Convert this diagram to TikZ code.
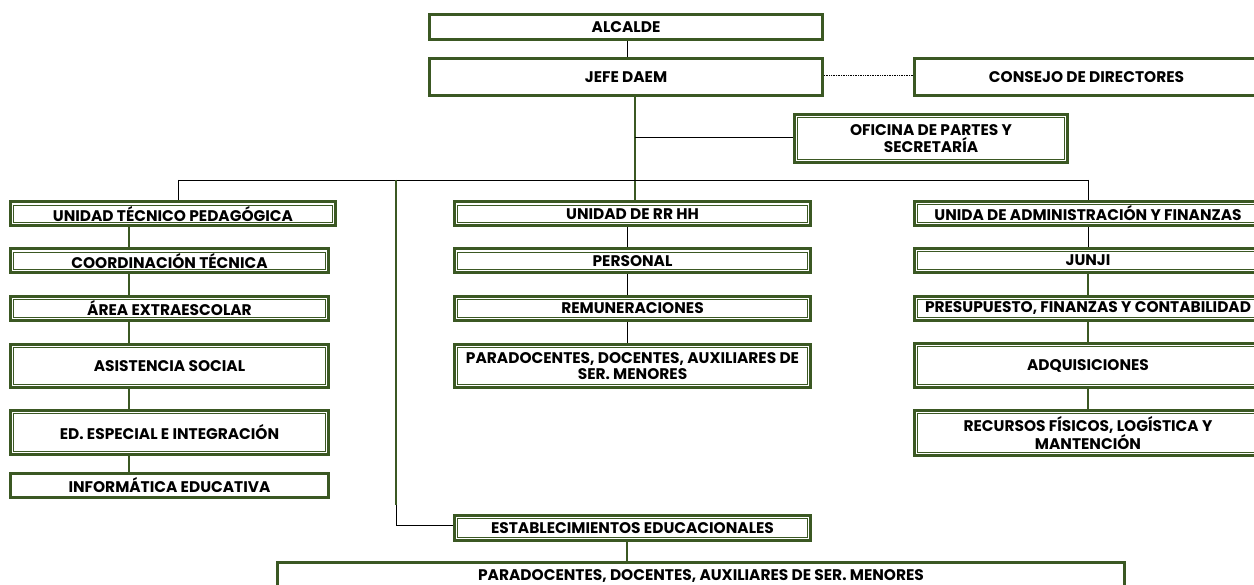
\documentclass[tikz,border=0pt]{standalone}
\usepackage{fontspec}
\setmainfont{Poppins}
\definecolor{dg}{RGB}{59,88,35}
\tikzset{
  bx/.style={draw=dg, line width=3pt, fill=white, inner sep=0pt, align=center,
    font=\bfseries\fontsize{15.4}{16.5}\selectfont, text=black},
  dbx/.style={bx, path picture={
      \draw[dg, line width=0.8pt] ([shift={(3.3pt,3.3pt)}]path picture bounding box.south west)
      rectangle ([shift={(-3.3pt,-3.3pt)}]path picture bounding box.north east);}},
  thin/.style={draw=black, line width=0.9pt},
  gl/.style={draw=dg, line width=2.2pt},
}
\begin{document}
\begin{tikzpicture}[x=1pt,y=-1pt]
\useasboundingbox (0,0) rectangle (1254,585);
\clip (0,0) rectangle (1254,585);
% top
\node[bx, minimum width=393pt, minimum height=25pt] (alc) at (626,27) {ALCALDE};
\node[bx, minimum width=393pt, minimum height=37pt] (jefe) at (626,77) {JEFE DAEM};
\node[bx, minimum width=344pt, minimum height=37pt] (cons) at (1086.5,77) {CONSEJO DE DIRECTORES};
\node[dbx, minimum width=273pt, minimum height=48pt] (ofi) at (931,138.5) {OFICINA DE PARTES Y\\SECRETARÍA};
% left column
\node[dbx, minimum width=325pt, minimum height=24pt] (utp) at (173,214) {UNIDAD TÉCNICO PEDAGÓGICA};
\node[dbx, minimum width=318pt, minimum height=24pt] (coord) at (169.5,261) {COORDINACIÓN TÉCNICA};
\node[dbx, minimum width=318pt, minimum height=24pt] (area) at (169.5,308.5) {ÁREA EXTRAESCOLAR};
\node[dbx, minimum width=318pt, minimum height=43pt] (asis) at (169.5,366) {ASISTENCIA SOCIAL};
\node[dbx, minimum width=318pt, minimum height=44pt] (edes) at (169.5,432.5) {ED. ESPECIAL E INTEGRACIÓN};
\node[bx, minimum width=318pt, minimum height=24pt] (info) at (169.5,485.5) {INFORMÁTICA EDUCATIVA};
% middle column
\node[dbx, minimum width=356pt, minimum height=24pt] (rrhh) at (632.5,214) {UNIDAD DE RR HH};
\node[dbx, minimum width=356pt, minimum height=24pt] (pers) at (632.5,261) {PERSONAL};
\node[dbx, minimum width=356pt, minimum height=24pt] (remu) at (632.5,308.5) {REMUNERACIONES};
\node[dbx, minimum width=356pt, minimum height=43pt] (pmid) at (632.5,366) {PARADOCENTES, DOCENTES, AUXILIARES DE\\SER. MENORES};
% right column
\node[dbx, minimum width=347pt, minimum height=24pt] (adm) at (1088,213.5) {UNIDA DE ADMINISTRACIÓN Y FINANZAS};
\node[dbx, minimum width=347pt, minimum height=24pt] (junji) at (1088,260.5) {JUNJI};
\node[dbx, minimum width=347pt, minimum height=24pt] (pres) at (1088,308.5) {PRESUPUESTO, FINANZAS Y CONTABILIDAD};
\node[dbx, minimum width=347pt, minimum height=44pt] (adq) at (1088,365.5) {ADQUISICIONES};
\node[dbx, minimum width=347pt, minimum height=45pt] (recu) at (1088,433) {RECURSOS FÍSICOS, LOGÍSTICA Y\\MANTENCIÓN};
% bottom
\node[dbx, minimum width=356pt, minimum height=25pt] (estb) at (632.5,528) {ESTABLECIMIENTOS EDUCACIONALES};
\node[bx, minimum width=847pt, minimum height=29pt] (pbot) at (701,576.5) {PARADOCENTES, DOCENTES, AUXILIARES DE SER. MENORES};
% coordinates
\coordinate (busL) at (178,180);
\coordinate (busR) at (1088,180);
\coordinate (busV) at (396,180);
\coordinate (vmid) at (396,505);
\coordinate (vcor) at (396,525);
\coordinate (trk) at (635,137);
% connectors
\draw[thin] (alc.south -| 627,0) -- (jefe.north -| 627,0);
\draw[draw=black, line width=0.7pt, densely dotted] (jefe.east |- 0,75) -- (cons.west |- 0,75);
\draw[gl] (jefe.south -| 635,0) -- (rrhh.north -| 635,0);
\draw[thin] (trk) -- (ofi.west |- trk);
\draw[thin] (busL) -- (busR);
\draw[thin] (busL) -- (utp.north -| busL);
\draw[thin] (busR) -- (adm.north -| busR);
\draw[gl] (busV) -- (vmid);
\draw[thin] (vmid) -- (vcor) -- (estb.west |- vcor);
% left chain
\foreach \a/\b in {utp/coord,coord/area,area/asis,asis/edes,edes/info}
  \draw[gl] (\a.south -| 129,0) -- (\b.north -| 129,0);
% middle chain
\foreach \a/\b in {rrhh/pers,pers/remu,remu/pmid}
  \draw[thin] (\a.south -| 627,0) -- (\b.north -| 627,0);
% right chain
\draw[thin] (adm.south -| 1088,0) -- (junji.north -| 1088,0);
\foreach \a/\b in {junji/pres,pres/adq,adq/recu}
  \draw[gl] (\a.south -| 1088,0) -- (\b.north -| 1088,0);
\draw[gl] (estb.south -| 627,0) -- (pbot.north -| 627,0);
\end{tikzpicture}
\end{document}
